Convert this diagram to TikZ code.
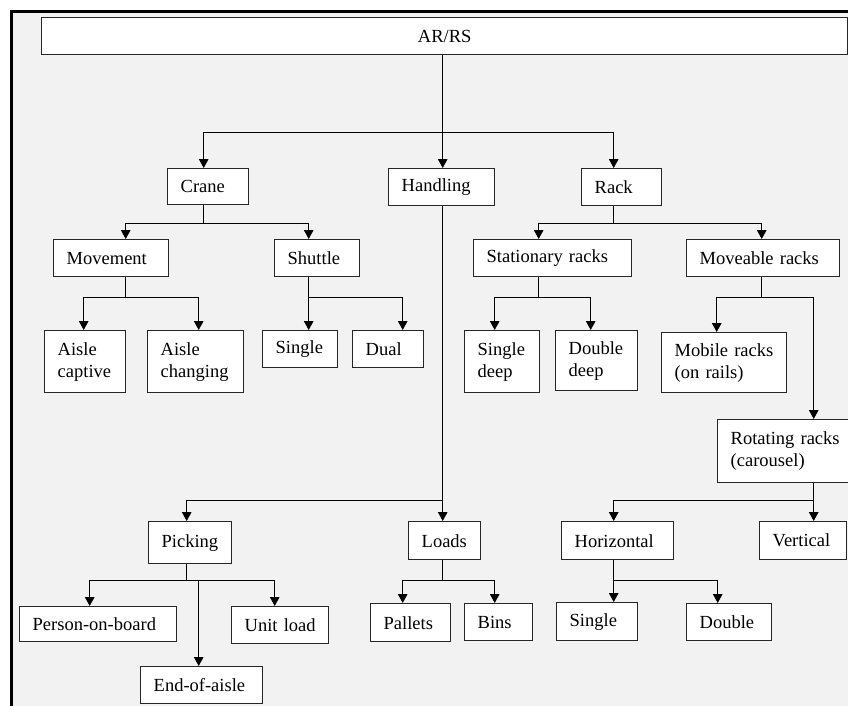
\documentclass[tikz,border=0pt]{standalone}
\usepackage{fontspec}
\setmainfont[WordSpace=0.8]{Liberation Serif}
\usetikzlibrary{arrows.meta}
\definecolor{bggray}{HTML}{F2F2F2}
\newcommand{\boxfont}{\fontsize{18.5}{22}\selectfont}

\begin{document}
\begin{tikzpicture}[x=1pt,y=-1pt,>={Triangle[width=9.5pt,length=9pt]},
  box/.style 2 args={draw=black!85,line width=1.4pt,fill=white,anchor=north west,
    inner xsep=13pt,inner ysep=0pt,text width={#1-26pt},minimum height=#2,
    align=left,font=\boxfont},
  stem/.style={draw,line width=1.3pt},
  link/.style={draw,line width=1.3pt,->}]
\useasboundingbox (0,0) rectangle (848,706);
\fill[white] (0,0) rectangle (848,706);
\draw[line width=3pt,fill=bggray] (11,12) rectangle (870,730);

% boxes
\node[draw=black!85,line width=1.4pt,fill=white,anchor=north west,minimum width=806,
  minimum height=37,inner sep=0pt,font=\boxfont] at (41,17) (arrs) {AR/RS};
\node[box={81}{36}] at (167,168) (crane) {Crane};
\node[box={106}{37}] at (388,168) (handling) {Handling};
\node[box={80}{37}] at (581,168) (rack) {Rack};

\node[box={115}{37}] at (53,239) (move) {Movement};
\node[box={85}{37}] at (274,239) (shuttle) {Shuttle};
\node[box={81}{62}] at (44,330) (captive) {Aisle\\captive};
\node[box={96}{62}] at (147,330) (changing) {Aisle\\changing};
\node[box={75}{37}] at (262,330) (single) {Single};
\node[box={71}{37}] at (352,330) (dual) {Dual};

\node[box={158}{37}] at (473,239) (stat) {Stationary~racks};
\node[box={153}{37}] at (686,239) (moveable) {Moveable~racks};
\node[box={75}{62}] at (464,330) (sdeep) {Single\\deep};
\node[box={82}{60}] at (555,330) (ddeep) {Double\\deep};
\node[box={125}{60}] at (661,332) (mobile) {Mobile~racks\\(on~rails)};
\node[box={140}{63}] at (717,419) (rotating) {Rotating~racks\\(carousel)};
\node[box={112}{38}] at (561,521) (horiz) {Horizontal};
\node[box={87}{38}] at (759,521) (vert) {Vertical};
\node[box={81}{38}] at (556,602) (hsingle) {Single};
\node[box={85}{37}] at (686,603) (hdouble) {Double};

\node[box={83}{42}] at (148,521) (picking) {Picking};
\node[box={72}{38}] at (408,521) (loads) {Loads};
\node[box={157}{35}] at (19,606) (pob) {Person-on-board};
\node[box={97}{37}] at (231,606) (unit) {Unit~load};
\node[box={122}{37}] at (140,666) (eoa) {End-of-aisle};
\node[box={80}{38}] at (370,603) (pallets) {Pallets};
\node[box={68}{37}] at (464,603) (bins) {Bins};

% connectors
\path[stem] ([xshift=-2pt]arrs.south) -- ++(0,77) coordinate (jarrs);
\path[stem] ([xshift=-4.5pt]crane.south) -- ++(0,18) coordinate (jcrane);
\path[stem] ([xshift=1pt]handling.south) -- ++(0,294) coordinate (jhandling);
\path[stem] ([xshift=-8pt]rack.south) -- ++(0,17) coordinate (jrack);
\path[stem] ([xshift=14.5pt]move.south) -- ++(0,20) coordinate (jmove);
\path[stem] ([xshift=-8.5pt]shuttle.south) -- ++(0,20) coordinate (jshuttle);
\path[stem] ([xshift=-14pt]stat.south) -- ++(0,20) coordinate (jstat);
\path[stem] ([xshift=-1.5pt]moveable.south) -- ++(0,20) coordinate (jmoveable);
\path[stem] ([xshift=26pt]rotating.south) -- ++(0,17) coordinate (jrotating);
\path[stem] ([xshift=-4pt]horiz.south) -- ++(0,20) coordinate (jhoriz);
\path[stem] ([xshift=-3.5pt]picking.south) -- ++(0,16) coordinate (jpicking);
\path[stem] ([xshift=-2pt]loads.south) -- ++(0,20) coordinate (jloads);

\foreach \p/\c/\s in {arrs/crane/-4.5,arrs/handling/1,arrs/rack/-8,
    crane/move/14.5,crane/shuttle/-8.5,move/captive/-1.5,move/changing/3,
    shuttle/single/8.5,shuttle/dual/14.5,rack/stat/-14,rack/moveable/-1.5,
    stat/sdeep/-7.5,stat/ddeep/-6,moveable/mobile/-7.5,moveable/rotating/26,
    rotating/horiz/-4,rotating/vert/10.5,horiz/hsingle/16.5,horiz/hdouble/-11.5,
    handling/picking/-3.5,handling/loads/-2,picking/pob/-8.5,picking/eoa/-3,
    picking/unit/-5.5,loads/pallets/-8,loads/bins/-4}
  \path[link] (j\p) -| ([xshift=\s pt]\c.north);
\end{tikzpicture}
\end{document}
